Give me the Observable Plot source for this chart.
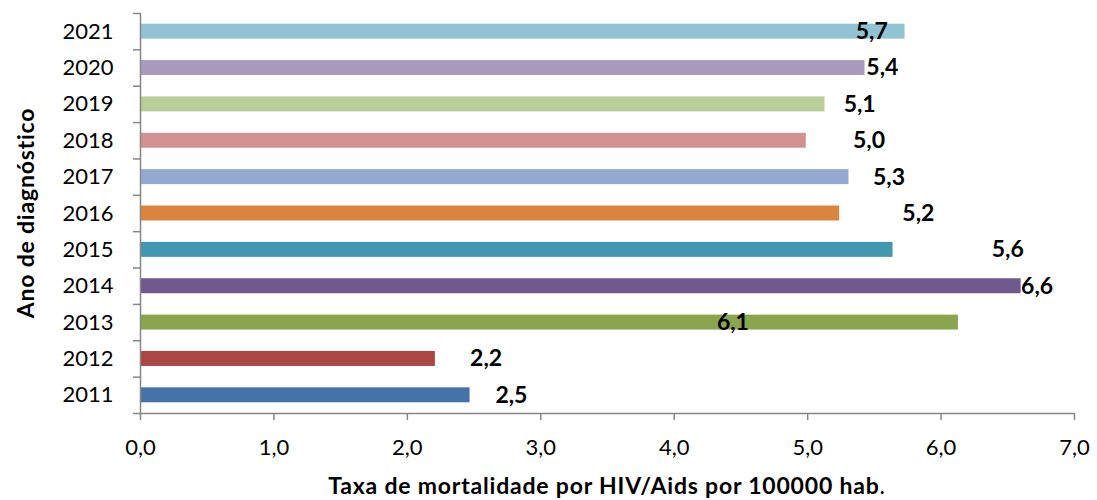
<!DOCTYPE html>
<html>
<head>
<meta charset="utf-8">
<script src="https://cdn.jsdelivr.net/npm/d3@7"></script>
<script src="https://cdn.jsdelivr.net/npm/@observablehq/plot@0.6"></script>
<style>
  html, body { margin: 0; padding: 0; background: #fff; }
  #chart { width: 1097px; height: 500px; }
</style>
</head>
<body>
<div id="chart"></div>
<script>
// Data
const years = [2011, 2012, 2013, 2014, 2015, 2016, 2017, 2018, 2019, 2020, 2021];
const rates = [2.47, 2.21, 6.13, 6.60, 5.64, 5.24, 5.31, 4.99, 5.13, 5.43, 5.73];
// where each value label sits along the x axis (in data units, as in the reference)
const labelAt = [2.78, 2.59, 4.44, 6.72, 6.50, 5.83, 5.61, 5.46, 5.39, 5.56, 5.48];
const colors = ["#4572A7", "#AA4643", "#89A54E", "#71588F", "#4198AF",
                "#DB843D", "#93A9CF", "#D19392", "#B9CD96", "#A99BBD", "#92C3D4"];
const xTicks = [0, 1, 2, 3, 4, 5, 6, 7];
const xTitle = "Taxa de mortalidade por HIV/Aids por 100000 hab";
const yTitle = "Ano de diagnóstico";

const data = years.map((y, i) => ({year: y, value: rates[i], at: labelAt[i], color: colors[i]}));
const comma = v => v.toFixed(1).replace(".", ",");
const boundaries = years.map(y => y - 0.5).concat([years[years.length - 1] + 0.5]);
const axisGrey = "#868686";

const plot = Plot.plot({
  width: 1097,
  height: 500,
  marginLeft: 140,
  marginRight: 23,
  marginTop: 13,
  marginBottom: 87,
  style: {fontFamily: "Lato, 'Open Sans', sans-serif", fontSize: "22px", color: "#000", background: "#fff"},
  x: {domain: [0, 7], axis: null},
  y: {type: "linear", domain: [boundaries[0], boundaries[boundaries.length - 1]], axis: null},
  color: {type: "identity"},
  marks: [
    Plot.rectX(data, {
      x1: 0, x2: "value",
      y1: d => d.year - 0.5, y2: d => d.year + 0.5,
      fill: "color",
      insetTop: 10.7, insetBottom: 10.7
    }),
    Plot.ruleX([0], {stroke: axisGrey, strokeWidth: 1.5}),
    Plot.ruleY([boundaries[0]], {stroke: axisGrey, strokeWidth: 1.5}),
    Plot.axisY(boundaries, {tickSize: 7, tickFormat: () => "", stroke: axisGrey, strokeWidth: 1.5, label: null}),
    Plot.axisY(years, {tickSize: 0, tickPadding: 27, tickFormat: d => String(d), label: null, fontSize: 22}),
    Plot.axisX(xTicks, {tickSize: 7, tickPadding: 19, tickFormat: comma, stroke: axisGrey, strokeWidth: 1.5, label: null, fontSize: 22}),
    Plot.text(data, {
      x: "at", y: "year",
      text: d => comma(d.value),
      fontWeight: "bold", fontSize: 23, fill: "#000"
    })
  ]
});

document.getElementById("chart").appendChild(plot);

// axis titles (bold, with the final period in regular weight as in the reference)
const svg = d3.select(plot);
const xt = svg.append("text")
  .attr("x", (140 + 1074) / 2)
  .attr("y", 494)
  .attr("text-anchor", "middle")
  .attr("font-size", 23)
  .attr("letter-spacing", "0.8px")
  .attr("fill", "#000");
xt.append("tspan").attr("font-weight", "bold").text(xTitle);
xt.append("tspan").attr("font-weight", "normal").text(".");

svg.append("text")
  .attr("transform", "translate(34,213) rotate(-90)")
  .attr("text-anchor", "middle")
  .attr("font-size", 23)
  .attr("letter-spacing", "0.8px")
  .attr("font-weight", "bold")
  .attr("fill", "#000")
  .text(yTitle);
</script>
</body>
</html>
